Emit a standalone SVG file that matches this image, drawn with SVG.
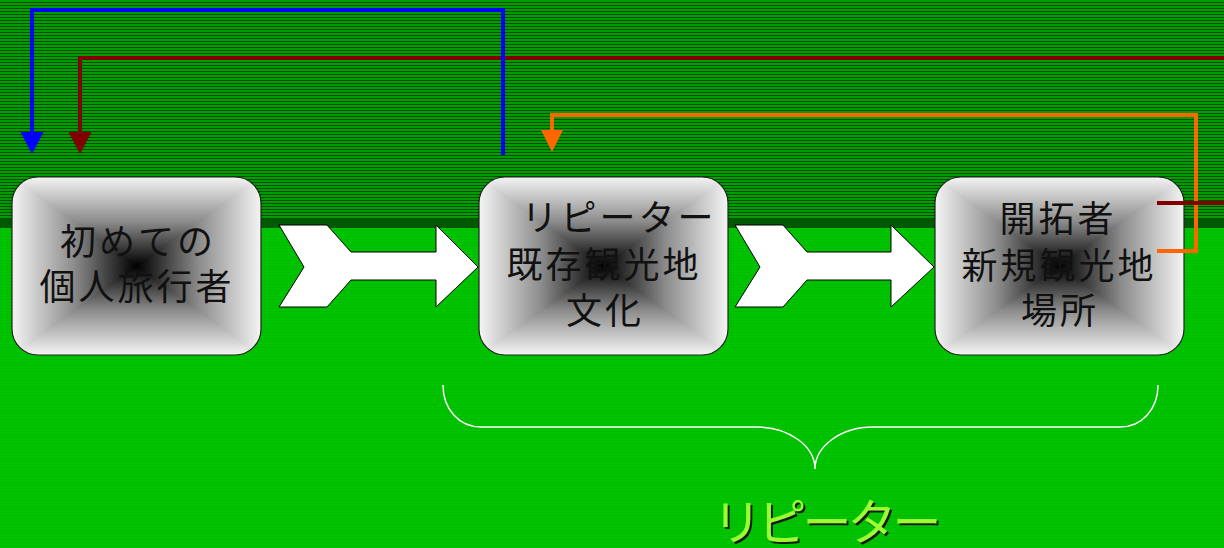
<svg xmlns="http://www.w3.org/2000/svg" xmlns:xlink="http://www.w3.org/1999/xlink" width="1224" height="548" viewBox="0 0 1224 548">
  <style>
    .lbl { font-family: "Noto Sans CJK JP", "Noto Sans CJK SC", sans-serif; font-size: 36px; fill: #111; text-anchor: middle; letter-spacing: 3px; }
    .conn { fill: none; stroke-width: 4; stroke-linejoin: miter; stroke-linecap: butt; }
    .tri { shape-rendering: crispEdges; }
    .arrow { fill: #ffffff; stroke: #000; stroke-width: 1; stroke-linejoin: miter; }
    .big { font-family: "Noto Sans CJK JP", "Noto Sans CJK SC", sans-serif; font-size: 49px; text-anchor: middle; letter-spacing: -4px; }
  </style>
  <defs>
    <pattern id="stripeTop" x="0" y="0" width="10" height="3" patternUnits="userSpaceOnUse">
      <rect x="0" y="0" width="10" height="2" fill="#009c00"/>
      <rect x="0" y="2" width="10" height="1" fill="#004c00"/>
    </pattern>
    <pattern id="stripeBot" x="0" y="0" width="10" height="3" patternUnits="userSpaceOnUse">
      <rect x="0" y="0" width="10" height="2" fill="#00c400"/>
      <rect x="0" y="2" width="10" height="1" fill="#00bb00"/>
    </pattern>
    <linearGradient id="gDown" x1="0" y1="0" x2="0" y2="1">
      <stop offset="0" stop-color="#f4f4f4"/><stop offset="0.5" stop-color="#8c8c8c"/><stop offset="1" stop-color="#000"/>
    </linearGradient>
    <linearGradient id="gUp" x1="0" y1="1" x2="0" y2="0">
      <stop offset="0" stop-color="#f4f4f4"/><stop offset="0.5" stop-color="#8c8c8c"/><stop offset="1" stop-color="#000"/>
    </linearGradient>
    <linearGradient id="gRight" x1="0" y1="0" x2="1" y2="0">
      <stop offset="0" stop-color="#f4f4f4"/><stop offset="0.5" stop-color="#8c8c8c"/><stop offset="1" stop-color="#000"/>
    </linearGradient>
    <linearGradient id="gLeft" x1="1" y1="0" x2="0" y2="0">
      <stop offset="0" stop-color="#f4f4f4"/><stop offset="0.5" stop-color="#8c8c8c"/><stop offset="1" stop-color="#000"/>
    </linearGradient>
    <clipPath id="nodeClip">
      <rect x="0" y="0" width="249" height="178" rx="26" ry="26"/>
    </clipPath>
    <g id="nodeShape">
      <g clip-path="url(#nodeClip)">
        <polygon class="tri" points="0,0 249,0 124.5,89" fill="url(#gDown)"/>
        <polygon class="tri" points="0,178 249,178 124.5,89" fill="url(#gUp)"/>
        <polygon class="tri" points="0,0 0,178 124.5,89" fill="url(#gRight)"/>
        <polygon class="tri" points="249,0 249,178 124.5,89" fill="url(#gLeft)"/>
      </g>
      <rect x="0" y="0" width="249" height="178" rx="26" ry="26" fill="none" stroke="#222" stroke-width="1.2"/>
    </g>
    <marker id="mBlue" markerUnits="userSpaceOnUse" markerWidth="24" markerHeight="24" viewBox="0 -12 22 24" refX="0" refY="0" orient="auto">
      <path d="M0,-11.5 L22,0 L0,11.5 Z" fill="#0000ff"/>
    </marker>
    <marker id="mRed" markerUnits="userSpaceOnUse" markerWidth="24" markerHeight="24" viewBox="0 -12 22 24" refX="0" refY="0" orient="auto">
      <path d="M0,-11.5 L22,0 L0,11.5 Z" fill="#800000"/>
    </marker>
    <marker id="mOrange" markerUnits="userSpaceOnUse" markerWidth="24" markerHeight="24" viewBox="0 -12 22 24" refX="0" refY="0" orient="auto">
      <path d="M0,-11 L22,0 L0,11 Z" fill="#ff6600"/>
    </marker>
  </defs>

  <!-- background -->
  <rect x="0" y="0" width="1224" height="548" fill="#00c000"/>
  <rect x="0" y="0" width="1224" height="219" fill="url(#stripeTop)"/>
  <rect x="0" y="219" width="1224" height="9" fill="#005800"/>
  <rect x="0" y="228" width="1224" height="320" fill="url(#stripeBot)"/>

  <!-- block arrows -->
  <g id="arrow1">
    <path class="arrow" d="M279,225 L327,225 L351,252 L436,252 L436,225 L478,267 L436,307 L436,280 L351,280 L327,307 L279,307 L304,267 Z"/>
  </g>
  <g id="arrow2">
    <path class="arrow" d="M735,225 L783,225 L807,252 L891,252 L891,225 L934,267 L891,307 L891,280 L807,280 L783,307 L735,307 L760,267 Z"/>
  </g>

  <!-- nodes -->
  <g id="node1">
    <use xlink:href="#nodeShape" href="#nodeShape" x="12" y="177"/>
    <text class="lbl" x="138" y="255">初めての</text>
    <text class="lbl" x="137" y="300">個人旅行者</text>
  </g>
  <g id="node2">
    <use xlink:href="#nodeShape" href="#nodeShape" x="479" y="177"/>
    <text class="lbl" x="619" y="231">リピーター</text>
    <text class="lbl" x="604" y="278">既存観光地</text>
    <text class="lbl" x="605" y="324">文化</text>
  </g>
  <g id="node3">
    <use xlink:href="#nodeShape" href="#nodeShape" x="935" y="177"/>
    <text class="lbl" x="1058" y="232">開拓者</text>
    <text class="lbl" x="1059" y="279">新規観光地</text>
    <text class="lbl" x="1060" y="324">場所</text>
  </g>

  <!-- connectors -->
  <g id="connectors">
    <path class="conn" stroke="#ff6600" d="M1157,251 L1196,251 L1196,115 L552,115 L552,130" marker-end="url(#mOrange)"/>
    <path class="conn" stroke="#800000" d="M1224,58 L80,58 L80,132" marker-end="url(#mRed)"/>
    <path class="conn" stroke="#800000" d="M1157,203 L1224,203"/>
    <path class="conn" stroke="#0000ff" d="M503,155 L503,10 L32,10 L32,132" marker-end="url(#mBlue)"/>
  </g>

  <!-- brace -->
  <g id="brace">
    <path d="M443,385 C443,409 459,427 481,427 L757,427 C790,427 815,447 815,469 C815,447 840,427 873,427 L1120,427 C1142,427 1158,409 1158,385" fill="none" stroke="#ffffff" stroke-width="1.5"/>
  </g>

  <!-- bottom label -->
  <g id="label-repeater">
    <text class="big" x="827" y="542" fill="#1a1a1a">リピーター</text>
    <text class="big" x="825" y="540" fill="#99ff33">リピーター</text>
  </g>
</svg>
